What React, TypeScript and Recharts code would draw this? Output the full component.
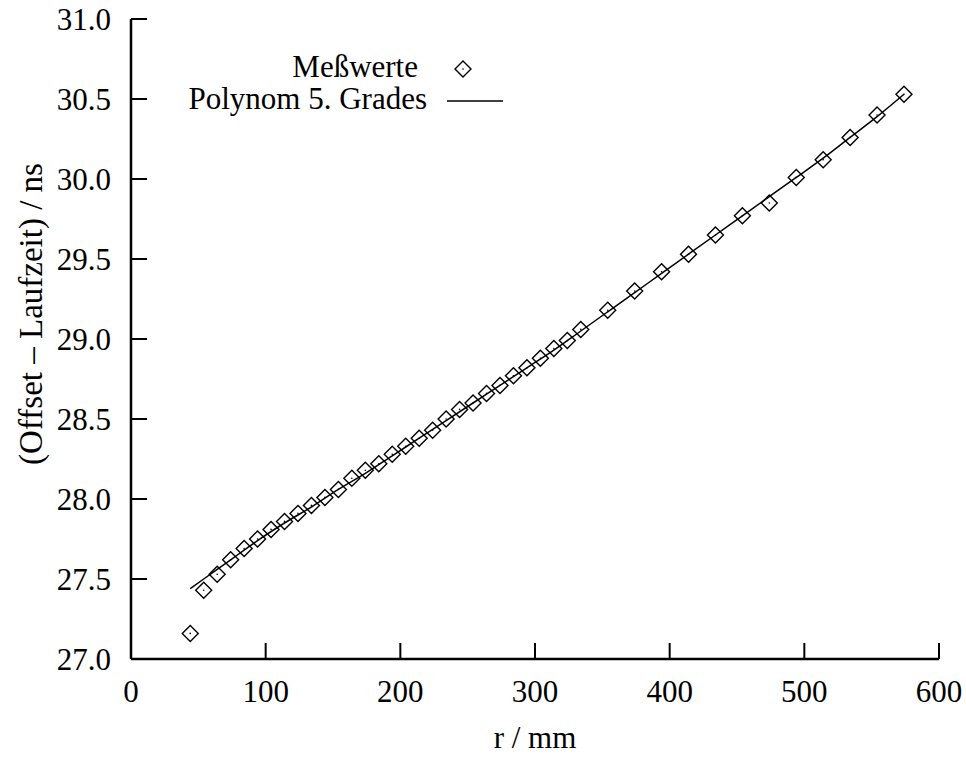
import { ComposedChart, Line, Scatter, XAxis, YAxis, Legend } from "recharts";

// measured points (r in mm, offset - Laufzeit in ns)
const radiusMm = [
  44, 54, 64, 74, 84, 94, 104, 114, 124, 134, 144, 154, 164, 174, 184, 194, 204, 214, 224, 234,
  244, 254, 264, 274, 284, 294, 304, 314, 324, 334, 354, 374, 394, 414, 434, 454, 474, 494, 514,
  534, 554, 574,
];
const timeNs = [
  27.16, 27.43, 27.53, 27.62, 27.69, 27.75, 27.81, 27.86, 27.91, 27.96, 28.01, 28.06, 28.13, 28.18,
  28.22, 28.28, 28.33, 28.38, 28.43, 28.5, 28.56, 28.6, 28.66, 28.71, 28.77, 28.82, 28.88, 28.94,
  28.99, 29.06, 29.18, 29.3, 29.42, 29.53, 29.65, 29.77, 29.85, 30.01, 30.12, 30.26, 30.4, 30.53,
];

// polynomial fit curve
const fitRadiusMm = [
  44, 54, 64, 74, 84, 94, 114, 134, 154, 174, 194, 214, 234, 254, 274, 294, 314, 334, 354, 374,
  394, 414, 434, 454, 474, 494, 514, 534, 554, 574,
];
const fitTimeNs = [
  27.44, 27.5, 27.56, 27.62, 27.68, 27.74, 27.85, 27.95, 28.06, 28.16, 28.27, 28.38, 28.49, 28.6,
  28.71, 28.82, 28.93, 29.05, 29.17, 29.29, 29.41, 29.53, 29.65, 29.77, 29.89, 30.01, 30.13, 30.26,
  30.39, 30.53,
];

const xTicks = [0, 100, 200, 300, 400, 500, 600];
const yTicks = [27, 27.5, 28, 28.5, 29, 29.5, 30, 30.5, 31];

const measured = radiusMm.map((r, i) => ({ r, t: timeNs[i] }));
const fit = fitRadiusMm.map((r, i) => ({ r, t: fitTimeNs[i] }));

const FONT = "Liberation Serif, Times New Roman, DejaVu Serif, serif";
const FS = 31;
const txt = { fontFamily: FONT, fontSize: FS, fill: "#000" };

function Diamond({ cx, cy }: { cx?: number; cy?: number }) {
  if (cx == null || cy == null) return null;
  const h = 8;
  return (
    <g>
      <polygon
        points={`${cx},${cy - h} ${cx + h},${cy} ${cx},${cy + h} ${cx - h},${cy}`}
        fill="none"
        stroke="#000"
        strokeWidth={1.4}
      />
      <circle cx={cx} cy={cy} r={0.8} fill="#000" />
    </g>
  );
}

function XTick(props: any) {
  const { x, y, payload } = props;
  return (
    <text x={x} y={y} dy="0.71em" textAnchor="middle" style={txt}>
      {payload.value}
    </text>
  );
}

function YTick(props: any) {
  const { x, y, payload } = props;
  return (
    <text x={x} y={y} dy="0.34em" textAnchor="end" style={txt}>
      {Number(payload.value).toFixed(1)}
    </text>
  );
}

function KeyBox() {
  return (
    <svg width={966} height={130} style={{ display: "block", pointerEvents: "none" }}>
      <text x={418} y={77} textAnchor="end" style={txt}>
        Meßwerte
      </text>
      <Diamond cx={463} cy={69} />
      <text x={427} y={109} textAnchor="end" style={txt}>
        Polynom 5. Grades
      </text>
      <line x1={447} x2={503} y1={101} y2={101} stroke="#000" strokeWidth={1.5} />
    </svg>
  );
}

const axisLine = { stroke: "#000", strokeWidth: 2.5 };
const tickLine = { stroke: "#000", strokeWidth: 2 };

export default function App() {
  return (
    <div
      style={{ position: "absolute", left: 0, top: 0, width: 966, height: 757, background: "#fff", fontFamily: FONT }}
    >
      <ComposedChart
        width={966}
        height={757}
        margin={{ top: 19, right: 27, bottom: 0, left: 0 }}
        style={{ fontFamily: FONT }}
      >
        <XAxis
          xAxisId="bottom"
          type="number"
          dataKey="r"
          domain={[0, 600]}
          ticks={xTicks}
          allowDataOverflow
          height={98}
          tickSize={-16}
          tickMargin={37}
          tick={<XTick />}
          axisLine={axisLine}
          tickLine={tickLine}
          label={() => (
            <text x={535} y={748} textAnchor="middle" style={txt}>
              r / mm
            </text>
          )}
        />
        <XAxis
          xAxisId="top"
          orientation="top"
          type="number"
          dataKey="r"
          domain={[0, 600]}
          ticks={xTicks}
          allowDataOverflow
          height={0}
          tickSize={-16}
          tick={false}
          axisLine={axisLine}
          tickLine={tickLine}
        />
        <YAxis
          yAxisId="left"
          type="number"
          domain={[27, 31]}
          ticks={yTicks}
          allowDataOverflow
          width={131}
          tickSize={-16}
          tickMargin={36}
          tick={<YTick />}
          axisLine={axisLine}
          tickLine={tickLine}
          label={() => (
            <text
              x={31}
              y={314}
              transform="rotate(-90 31 314)"
              textAnchor="middle"
              dominantBaseline="central"
              style={{ ...txt, fontSize: 33 }}
            >
              (Offset – Laufzeit) / ns
            </text>
          )}
        />
        <YAxis
          yAxisId="right"
          orientation="right"
          type="number"
          domain={[27, 31]}
          ticks={yTicks}
          allowDataOverflow
          width={0}
          tickSize={-16}
          tick={false}
          axisLine={axisLine}
          tickLine={tickLine}
        />
        <Legend
          layout="horizontal"
          verticalAlign="middle"
          align="center"
          content={() => <KeyBox />}
          wrapperStyle={{ position: "absolute", left: 0, top: 0, width: 966, height: 130 }}
        />
        <Line
          xAxisId="bottom"
          yAxisId="left"
          data={fit}
          dataKey="t"
          name="Polynom 5. Grades"
          type="monotone"
          stroke="#000"
          strokeWidth={1.5}
          dot={false}
          activeDot={false}
          isAnimationActive={false}
        />
        <Scatter
          xAxisId="bottom"
          yAxisId="left"
          data={measured}
          dataKey="t"
          name="Meßwerte"
          shape={(p: any) => <Diamond cx={p.cx} cy={p.cy} />}
          isAnimationActive={false}
        />
      </ComposedChart>
    </div>
  );
}
